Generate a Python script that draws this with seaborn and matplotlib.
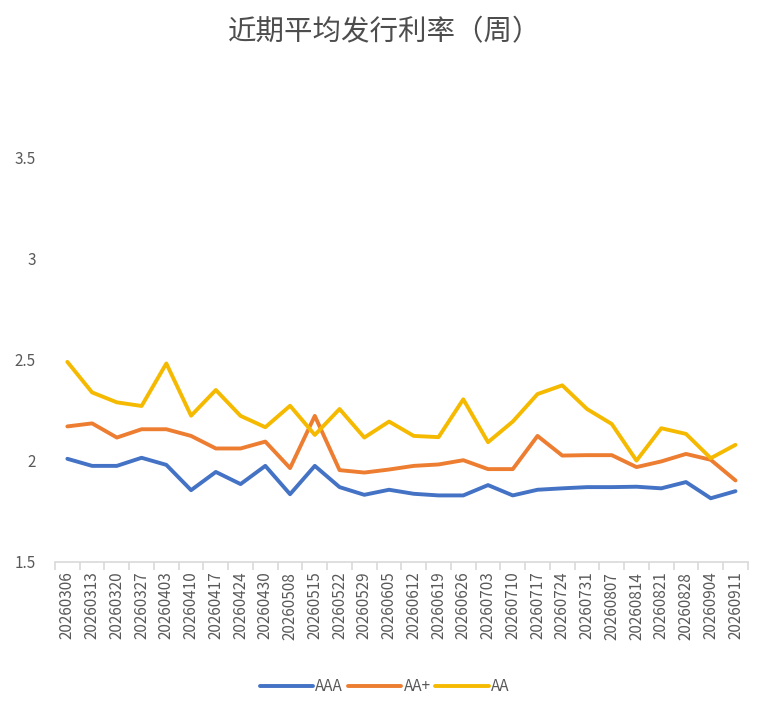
import numpy as np
import pandas as pd
import matplotlib
matplotlib.use("Agg")
import matplotlib.pyplot as plt
import seaborn as sns

dates = ["20260306", "20260313", "20260320", "20260327", "20260403", "20260410",
         "20260417", "20260424", "20260430", "20260508", "20260515", "20260522",
         "20260529", "20260605", "20260612", "20260619", "20260626", "20260703",
         "20260710", "20260717", "20260724", "20260731", "20260807", "20260814",
         "20260821", "20260828", "20260904", "20260911"]

aaa = [2.01, 1.975, 1.975, 2.015, 1.98, 1.855, 1.945, 1.885, 1.975, 1.835,
       1.975, 1.87, 1.832, 1.857, 1.837, 1.829, 1.829, 1.88, 1.829, 1.857,
       1.864, 1.87, 1.87, 1.872, 1.864, 1.895, 1.815, 1.85]
aa_plus = [2.17, 2.185, 2.115, 2.156, 2.156, 2.123, 2.061, 2.061, 2.095, 1.964,
           2.222, 1.954, 1.942, 1.957, 1.975, 1.982, 2.003, 1.959, 1.959, 2.123,
           2.026, 2.028, 2.028, 1.969, 1.997, 2.034, 2.005, 1.903]
aa = [2.489, 2.338, 2.289, 2.271, 2.481, 2.223, 2.35, 2.222, 2.166, 2.272,
      2.128, 2.256, 2.115, 2.194, 2.123, 2.117, 2.304, 2.092, 2.194, 2.33,
      2.373, 2.256, 2.182, 2.001, 2.161, 2.133, 2.013, 2.079]

series_names = ["AAA", "AA+", "AA"]
colors = ["#4472C4", "#ED7D31", "#F5BA00"]

df = pd.DataFrame({"date": dates * 3,
                   "rate": aaa + aa_plus + aa,
                   "grade": [n for n in series_names for _ in dates]})

sns.set_theme(style="white")
plt.rcParams['font.family'] = ['Noto Sans CJK SC', 'DejaVu Sans']

fig = plt.figure(figsize=(7.69, 7.15), dpi=100)
ax = fig.add_axes([0.0715, 0.214, 0.901, 0.566])

sns.lineplot(data=df, x="date", y="rate", hue="grade", palette=colors,
             hue_order=series_names, linewidth=2.8, sort=False, ax=ax)

ax.set_xlim(-0.5, len(dates) - 0.5)
ax.set_ylim(1.5, 3.5)
ax.set_yticks([1.5, 2, 2.5, 3, 3.5])
ax.set_yticklabels(["1.5", "2", "2.5", "3", "3.5"])
ax.set_xlabel("")
ax.set_ylabel("")

for s in ["top", "right", "left"]:
    ax.spines[s].set_visible(False)
ax.spines["bottom"].set_color("#d9d9d9")
ax.spines["bottom"].set_linewidth(1.2)

ax.tick_params(axis="x", which="major", length=0, labelrotation=90,
               labelsize=11, labelcolor="#595959", pad=7)
ax.set_xticks(np.arange(-0.5, len(dates), 1), minor=True)
ax.tick_params(axis="x", which="minor", length=6, color="#d9d9d9", width=1.2,
               bottom=True)
ax.tick_params(axis="y", length=0, labelsize=11, labelcolor="#595959", pad=14)

fig.text(0.5, 0.955, "近期平均发行利率（周）", ha="center", va="center",
         fontsize=20.5, color="#4d4d4d")

ax.legend(loc="center", bbox_to_anchor=(0.5, 0.04), bbox_transform=fig.transFigure,
          ncol=3, frameon=False, fontsize=11, handlelength=3.5, handletextpad=0.15,
          columnspacing=0.3, labelcolor="#595959")

fig.savefig("out.png", dpi=100)
